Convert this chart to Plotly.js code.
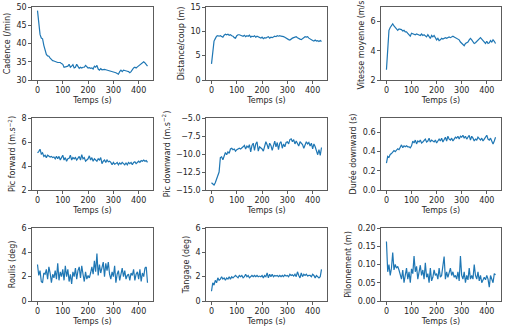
<!DOCTYPE html>
<html>
<head>
<meta charset="utf-8">
<script src="https://cdn.plot.ly/plotly-3.0.1.min.js"></script>
<style>html,body{margin:0;padding:0;background:#fff;}#chart{width:508px;height:329px;}</style>
</head>
<body>
<div id="chart"></div>
<script>
var temps = [0,5,10,15,20,25,30,35,40,45,50,55,60,65,70,75,80,85,90,95,100,105,110,115,120,125,130,135,140,145,150,155,160,165,170,175,180,185,190,195,200,205,210,215,220,225,230,235,240,245,250,255,260,265,270,275,280,285,290,295,300,305,310,315,320,325,330,335,340,345,350,355,360,365,370,375,380,385,390,395,400,405,410,415,420,425,430,435];

var cadence = [49,44.5,42.5,41.5,41.3,39.5,37.8,37.0,36.6,36.5,36.0,35.5,35.3,35.2,35.0,35.0,34.8,34.8,34.8,34.5,34.3,33.5,33.6,33.5,33.8,34.3,33.5,33.8,34.2,33.3,33.5,34.3,33.5,33.2,33.5,33.3,33.5,33.5,34.0,33.7,33.3,33.4,33.2,33.3,33.0,33.8,33.5,34.0,33.0,32.7,33.1,32.8,32.9,32.9,32.8,32.7,32.8,32.6,32.5,32.5,32.3,32.2,32.0,31.8,31.6,32.3,32.7,32.3,32.7,32.6,32.6,32.4,32.3,32.0,32.3,33.0,33.3,33.5,33.3,33.6,33.9,34.0,34.5,34.8,35.0,34.7,34.3,33.8];

var distance = [3.3,6.5,8.0,8.5,9.0,9.1,9.0,9.1,8.9,8.8,9.2,9.4,9.3,9.4,9.2,9.3,9.1,9.0,8.7,8.6,9.1,9.3,9.3,9.2,9.1,9.0,9.2,8.9,9.1,9.0,9.2,8.8,9.0,8.9,9.1,8.8,9.0,8.9,8.8,8.6,8.8,8.5,8.7,8.6,8.8,8.9,8.6,8.8,8.7,8.9,9.0,8.9,9.1,9.0,9.1,9.0,9.0,8.9,8.8,8.6,8.5,8.3,8.2,8.5,8.6,8.7,8.8,8.9,8.7,8.5,8.4,8.3,8.5,8.7,8.9,8.8,8.9,8.6,8.4,8.3,8.1,8.0,8.2,8.0,8.1,7.9,8.1,7.9];

var vitesse = [2.7,4.5,5.4,5.6,5.7,5.85,5.7,5.6,5.5,5.4,5.5,5.5,5.45,5.35,5.4,5.3,5.3,5.2,5.1,5.0,5.2,5.15,5.15,5.1,5.15,5.1,5.1,5.05,5.15,5.05,5.1,5.0,4.95,5.1,5.0,4.85,5.05,4.95,5.05,4.9,4.75,4.85,4.7,4.75,4.85,4.8,4.85,4.9,4.85,4.9,4.95,4.9,4.95,5.0,4.95,4.9,4.85,4.8,4.75,4.6,4.5,4.4,4.35,4.5,4.55,4.6,4.75,4.85,4.75,4.6,4.5,4.55,4.65,4.75,4.85,4.9,4.8,4.7,4.55,4.5,4.65,4.5,4.55,4.7,4.6,4.75,4.65,4.5];

var picForward = [5.1,5.2,5.4,5.0,5.1,4.8,4.9,4.7,4.9,4.8,4.75,4.8,4.7,4.75,4.6,4.8,4.6,4.8,4.5,4.7,4.9,4.5,4.7,4.4,4.6,4.65,4.9,4.5,4.7,4.6,4.7,4.5,4.65,4.8,4.5,4.95,4.6,4.7,4.4,4.5,4.6,4.85,4.5,4.7,4.4,4.6,4.5,4.4,4.6,4.5,4.7,4.2,4.4,4.5,4.3,4.5,4.35,4.4,4.3,4.1,4.3,4.15,4.2,4.3,4.1,4.25,4.15,4.3,4.2,4.1,4.25,4.1,4.3,4.2,4.3,4.1,4.3,4.35,4.2,4.3,4.4,4.3,4.45,4.4,4.5,4.4,4.45,4.3];

var picDownward = [-14.0,-14.2,-14.3,-14.0,-13.5,-13.0,-12.5,-10.5,-10.4,-10.8,-10.2,-9.8,-10.1,-9.7,-9.9,-9.3,-9.2,-9.4,-9.3,-9.6,-9.4,-9.3,-9.2,-9.3,-9.2,-9.0,-8.8,-9.3,-8.9,-9.1,-8.7,-9.7,-8.8,-8.5,-9.5,-8.6,-8.3,-9.6,-9.0,-9.1,-9.3,-9.6,-9.0,-8.3,-8.7,-9.3,-8.5,-8.8,-9.5,-8.6,-8.2,-9.0,-8.4,-9.4,-8.5,-8.3,-9.2,-8.6,-9.0,-8.4,-8.3,-8.6,-8.0,-7.9,-8.3,-8.0,-8.6,-8.2,-8.6,-8.9,-8.3,-8.5,-8.7,-9.2,-8.6,-8.3,-8.6,-8.4,-8.9,-8.5,-9.3,-8.6,-9.0,-9.6,-10.1,-9.4,-10.2,-9.1];

var dureeDownward = [0.28,0.35,0.34,0.37,0.38,0.40,0.41,0.40,0.42,0.43,0.42,0.45,0.47,0.44,0.46,0.45,0.46,0.45,0.45,0.44,0.46,0.51,0.49,0.52,0.48,0.51,0.50,0.52,0.49,0.50,0.52,0.53,0.50,0.51,0.54,0.50,0.52,0.51,0.50,0.52,0.49,0.51,0.53,0.51,0.54,0.50,0.52,0.55,0.51,0.56,0.53,0.52,0.54,0.51,0.53,0.55,0.54,0.56,0.53,0.56,0.55,0.57,0.54,0.56,0.53,0.55,0.57,0.52,0.56,0.54,0.51,0.53,0.52,0.55,0.53,0.52,0.54,0.51,0.53,0.55,0.57,0.53,0.52,0.54,0.50,0.48,0.51,0.55];

var roulis = [3.0,2.1,2.5,1.6,1.5,2.3,2.2,2.6,1.8,2.8,2.3,1.5,2.2,1.9,2.5,1.8,3.1,1.7,2.4,2.0,2.6,1.7,2.9,2.0,2.6,1.6,2.2,1.4,2.4,2.0,2.7,1.8,2.5,2.8,1.9,2.9,2.2,1.6,2.4,1.8,2.1,1.9,2.3,2.8,2.2,3.3,2.4,3.9,2.1,3.0,2.3,2.8,3.2,2.0,3.1,2.5,3.2,2.2,1.8,2.4,2.0,2.9,1.5,2.2,2.5,1.7,2.3,2.7,2.0,2.5,1.8,2.1,2.2,1.7,2.3,2.1,2.6,1.7,2.2,2.4,1.8,2.6,1.6,2.3,2.0,2.7,2.8,1.5];

var tangage = [0.8,1.5,1.3,1.7,1.5,1.9,1.7,1.8,2.0,1.8,1.9,1.7,1.9,1.8,2.0,1.8,2.0,1.9,2.0,2.1,2.0,1.9,2.1,2.0,2.1,1.9,2.0,2.2,2.0,2.1,1.9,2.0,2.1,2.0,2.1,2.0,2.1,2.0,2.05,2.0,2.1,1.9,2.1,2.0,2.3,1.9,2.2,2.0,2.2,2.0,2.1,2.05,2.1,2.0,2.1,2.0,2.1,2.0,2.15,2.05,2.1,2.0,2.2,2.1,2.15,2.05,2.2,2.0,2.4,2.1,1.9,2.3,2.0,2.2,2.1,2.2,2.05,2.1,2.1,2.0,2.2,2.1,1.9,2.1,2.0,1.9,2.0,2.6];

var pilonnement = [0.163,0.08,0.10,0.07,0.09,0.133,0.085,0.10,0.09,0.095,0.085,0.075,0.06,0.085,0.05,0.07,0.09,0.06,0.08,0.05,0.088,0.075,0.123,0.08,0.095,0.06,0.08,0.098,0.07,0.085,0.06,0.105,0.065,0.075,0.05,0.09,0.055,0.065,0.085,0.07,0.075,0.06,0.09,0.065,0.07,0.10,0.122,0.06,0.08,0.065,0.075,0.09,0.07,0.08,0.065,0.07,0.06,0.08,0.055,0.123,0.07,0.06,0.08,0.05,0.07,0.058,0.09,0.06,0.07,0.06,0.10,0.07,0.06,0.08,0.055,0.07,0.05,0.06,0.065,0.058,0.07,0.06,0.038,0.07,0.06,0.05,0.075,0.072];

var yTitles = ['Cadence (/min)','Distance/coup (m)','Vitesse moyenne (m/s)',
  'Pic forward (m.s<sup>−2</sup>)','Pic downward (m.s<sup>−2</sup>)','Durée downward (s)',
  'Roulis (deg)','Tangage (deg)','Pilonnement (m)'];
var xTitle = 'Temps (s)';
var series = [cadence, distance, vitesse, picForward, picDownward, dureeDownward, roulis, tangage, pilonnement];
var yRanges = [[30,50],[0,15],[2,7],[2,8],[-15,-5],[0,0.75],[0,6],[0,6],[0,0.2]];
var yDtick = [5,5,2,2,2.5,0.2,2,2,0.05];
var yFormat = ['','','','','.1f','.1f','','','.2f'];

var W = 508, H = 329;
var colX = [[32,153],[206,327],[381,501]];
var rowY = [[7,80],[118,190],[228,301]];
var font = {family:'DejaVu Sans', size:8, color:'#262626'};

var data = [];
var layout = {
  width: W, height: H,
  margin: {l:0,r:0,t:0,b:0},
  paper_bgcolor:'#fff', plot_bgcolor:'#fff',
  showlegend:false,
  font: font
};
for (var i=0;i<9;i++){
  var r = Math.floor(i/3), c = i%3;
  var n = i+1;
  var xa = 'x'+(n===1?'':n), ya = 'y'+(n===1?'':n);
  data.push({x: temps, y: series[i], type:'scatter', mode:'lines',
    line:{color:'#1f77b4', width:1.2}, xaxis: xa, yaxis: ya, hoverinfo:'skip'});
  var common = {showgrid:false, zeroline:false, showline:true, mirror:true,
    linecolor:'#333', linewidth:0.8, ticks:'outside', ticklen:3, tickwidth:0.8,
    tickcolor:'#333', tickfont:font, automargin:false};
  var xk = 'xaxis'+(n===1?'':n), yk = 'yaxis'+(n===1?'':n);
  layout[xk] = Object.assign({}, common, {
    domain:[colX[c][0]/W, colX[c][1]/W], anchor: ya,
    range:[-21.75,456.75], tickmode:'array', tickvals:[0,100,200,300,400],
    title:{text:xTitle, font:font, standoff:2}
  });
  layout[yk] = Object.assign({}, common, {
    domain:[1-rowY[r][1]/H, 1-rowY[r][0]/H], anchor: xa,
    range: yRanges[i], tick0: yRanges[i][0], dtick: yDtick[i], tickformat: yFormat[i],
    title:{text:yTitles[i], font:font, standoff:4}
  });
}
Plotly.newPlot('chart', data, layout, {staticPlot:true});
</script>
</body>
</html>
